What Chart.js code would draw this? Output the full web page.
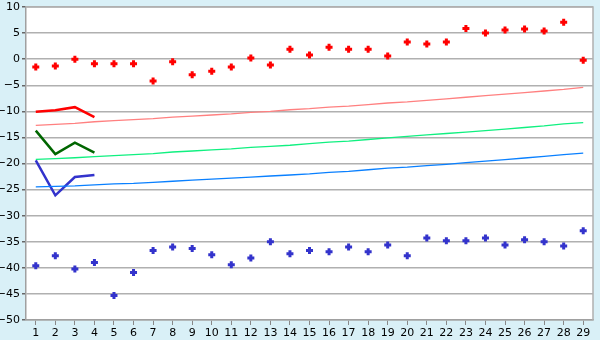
<!DOCTYPE html>
<html>
<head>
<meta charset="utf-8">
<script src="https://cdn.jsdelivr.net/npm/chart.js@4"></script>
<style>
  html, body { margin: 0; padding: 0; background: #d9f0f7; }
  #wrap { width: 600px; height: 340px; }
</style>
</head>
<body>
<div id="wrap"><canvas id="chart" width="600" height="340"></canvas></div>
<script>
const labels = ['1','2','3','4','5','6','7','8','9','10','11','12','13','14','15',
    '16','17','18','19','20','21','22','23','24','25','26','27','28','29'];

// upper scatter (red)
const upperPoints = [-1.5, -1.3, 0.0, -0.9, -0.9, -0.9, -4.2, -0.5, -3.0, -2.3,
    -1.5, 0.2, -1.1, 1.9, 0.8, 2.3, 1.9, 1.9, 0.6, 3.3,
    2.9, 3.3, 5.9, 5.0, 5.6, 5.8, 5.4, 7.1, -0.2];

// lower scatter (blue)
const lowerPoints = [-39.6, -37.7, -40.2, -39.0, -45.3, -40.9, -36.7, -36.0, -36.3, -37.5,
    -39.4, -38.1, -35.0, -37.3, -36.7, -36.9, -36.0, -36.9, -35.6, -37.7,
    -34.3, -34.8, -34.8, -34.3, -35.6, -34.6, -35.0, -35.8, -32.9];

// short heavy lines (first four categories)
const redShort = [-10.1, -9.8, -9.2, -11.1];
const greenShort = [-13.7, -18.2, -16.0, -17.9];
const blueShort = [-19.4, -26.1, -22.6, -22.2];

// thin trend lines
const pinkTrend = [-12.7, -12.5, -12.3, -12.0, -11.8, -11.6, -11.4, -11.1, -10.9, -10.7,
    -10.5, -10.2, -10.0, -9.7, -9.5, -9.2, -9.0, -8.7, -8.4, -8.2,
    -7.9, -7.6, -7.3, -7.0, -6.7, -6.4, -6.1, -5.8, -5.4];
const greenTrend = [-19.2, -19.05, -18.9, -18.7, -18.5, -18.3, -18.1, -17.8, -17.6, -17.4,
    -17.2, -16.9, -16.7, -16.5, -16.2, -15.9, -15.7, -15.4, -15.1, -14.8,
    -14.5, -14.25, -14.0, -13.7, -13.4, -13.1, -12.8, -12.4, -12.15];
const blueTrend = [-24.5, -24.4, -24.3, -24.1, -23.9, -23.8, -23.6, -23.4, -23.2, -23.0,
    -22.8, -22.6, -22.4, -22.2, -22.0, -21.7, -21.5, -21.2, -20.9, -20.7,
    -20.4, -20.15, -19.85, -19.55, -19.25, -18.95, -18.65, -18.3, -18.0];

const plotFrame = {
    id: 'plotFrame',
    beforeDraw: chart => {
        const ctx = chart.ctx;
        const a = chart.chartArea;
        ctx.save();
        ctx.fillStyle = '#ffffff';
        ctx.fillRect(a.left, a.top, a.right - a.left, a.bottom - a.top);
        ctx.restore();
    },
    afterDatasetsDraw: chart => {
        const ctx = chart.ctx;
        const a = chart.chartArea;
        ctx.save();
        ctx.strokeStyle = '#b0b0b0';
        ctx.lineWidth = 1.5;
        ctx.beginPath();
        ctx.moveTo(a.left, a.top);
        ctx.lineTo(a.right, a.top);
        ctx.lineTo(a.right, a.bottom);
        ctx.stroke();
        ctx.restore();
    }
};

function trend(data, color) {
    return { data: data, borderColor: color, borderWidth: 1.3, pointRadius: 0, fill: false };
}

function heavy(data, color) {
    return { data: data, borderColor: color, borderWidth: 2.5, pointRadius: 0, fill: false };
}

function dots(data, color) {
    return {
        data: data, showLine: false, pointStyle: 'cross', pointRadius: 3.5,
        pointBorderWidth: 3, borderColor: color, backgroundColor: color
    };
}

new Chart(document.getElementById('chart'), {
    type: 'line',
    data: {
        labels: labels,
        datasets: [
            trend(pinkTrend, '#ff8080'),
            trend(greenTrend, '#10f080'),
            trend(blueTrend, '#0a80ff'),
            heavy(redShort, '#ff0000'),
            heavy(greenShort, '#006600'),
            heavy(blueShort, '#3333cc'),
            dots(upperPoints, '#ff0000'),
            dots(lowerPoints, '#3333cc')
        ]
    },
    options: {
        responsive: false,
        animation: false,
        layout: { padding: { top: 5, right: 5, left: 0, bottom: 0 } },
        plugins: {
            legend: { display: false },
            tooltip: { enabled: false }
        },
        scales: {
            x: {
                offset: true,
                grid: {
                    offset: false,
                    drawOnChartArea: false,
                    tickLength: 5,
                    color: '#888888'
                },
                border: { color: '#a0a0a0', width: 1.5 },
                ticks: {
                    color: '#000000',
                    padding: 2,
                    maxRotation: 0,
                    autoSkip: false,
                    font: { family: 'DejaVu Sans', size: 11 }
                },
                afterFit: scale => { scale.height = 20; }
            },
            y: {
                min: -50,
                max: 10,
                ticks: {
                    stepSize: 5,
                    color: '#000000',
                    padding: 2,
                    font: { family: 'DejaVu Sans', size: 11 },
                    callback: value => String(value).replace('-', '\u2212')
                },
                grid: {
                    color: '#b0b0b0',
                    lineWidth: 1.5,
                    tickLength: 4,
                    tickColor: '#666666'
                },
                border: { color: '#a0a0a0', width: 1.5 },
                afterFit: scale => {
                    scale.width = 26;
                    scale.paddingTop = 0;
                    scale.paddingBottom = 0;
                }
            }
        }
    },
    plugins: [plotFrame]
});
</script>
</body>
</html>
